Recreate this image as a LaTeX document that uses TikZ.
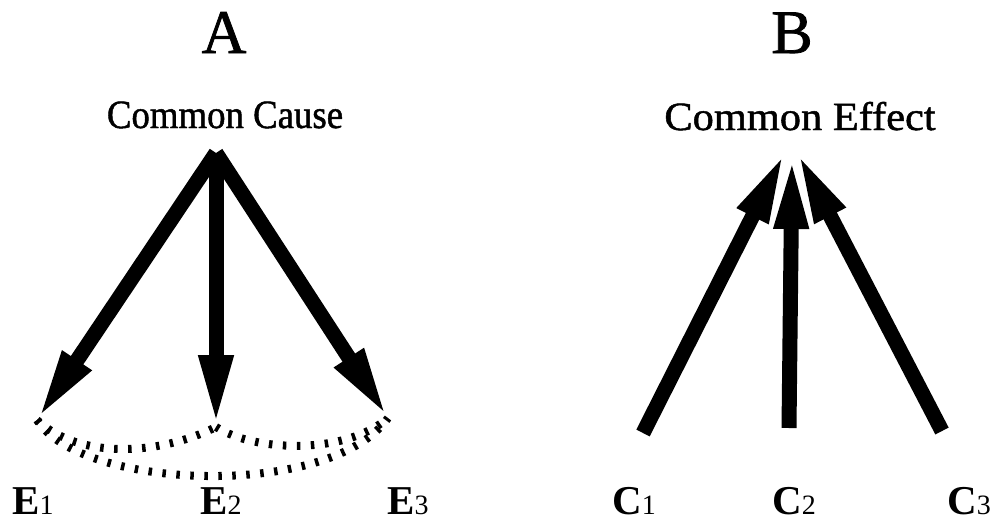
\documentclass[tikz,border=0pt]{standalone}
\usepackage{fontspec}
\setmainfont{Liberation Serif}
\newfontfamily\heavyserif[FakeBold=1.2]{Liberation Serif}
\usetikzlibrary{arrows.meta}
\newcommand\mylbl[2]{{\fontsize{41}{41}\selectfont\bfseries #1}{\fontsize{28}{28}\selectfont #2}}
\tikzset{
  bigarrow/.style={line width=15pt,-{Triangle[length=72pt,width=31pt]}},
  dotcurve/.style={line width=8pt,dash pattern=on 3.5pt off 10.5pt},
  title/.style={font=\heavyserif\fontsize{62}{62}\selectfont,anchor=base,inner sep=0pt},
  head/.style={font=\heavyserif\fontsize{40}{40}\selectfont,anchor=base,inner sep=0pt},
  lbl/.style={anchor=base west,inner sep=0pt}
}
\begin{document}
\begin{tikzpicture}[x=1pt,y=-1pt]
\useasboundingbox (0,0) rectangle (993,522);
% titles
\node[title] (tA) at (224,53) {A};
\node[title] (tB) at (792,53) {B};
\node[head] (cause) at (225,128) {\scalebox{0.92}[1]{Common Cause}};
\node[head] (effect) at (800,130) {\scalebox{1.06}[1]{Common Effect}};
% panel A
\coordinate (apex) at (216,153);
\coordinate (e1t) at (37,420);
\coordinate (e2t) at (216,427);
\coordinate (e3t) at (388,418);
\draw[bigarrow] (apex) -- (e1t);
\draw[bigarrow] (apex) -- (e2t);
\draw[bigarrow] (apex) -- (e3t);
\draw[dotcurve] (e1t) .. controls (80,460) and (160,455) .. (e2t);
\draw[dotcurve] (e2t) .. controls (255,452) and (345,455) .. (e3t);
\draw[dotcurve] (e1t) .. controls (80,490) and (330,500) .. (e3t);
\node[lbl] (E1) at (12,514) {\mylbl{E}{1}};
\node[lbl] (E2) at (200,514) {\mylbl{E}{2}};
\node[lbl] (E3) at (387,514) {\mylbl{E}{3}};
% panel B
\coordinate (c1s) at (643,433);
\coordinate (c2s) at (789,428);
\coordinate (c3s) at (942,431);
\coordinate (c1t) at (785,152);
\coordinate (c2t) at (792,157);
\coordinate (c3t) at (797,152);
\draw[bigarrow] (c1s) -- (c1t);
\draw[bigarrow] (c2s) -- (c2t);
\draw[bigarrow] (c3s) -- (c3t);
\node[lbl] (C1) at (612,514) {\mylbl{C}{1}};
\node[lbl] (C2) at (772,514) {\mylbl{C}{2}};
\node[lbl] (C3) at (947,514) {\mylbl{C}{3}};
\end{tikzpicture}
\end{document}
